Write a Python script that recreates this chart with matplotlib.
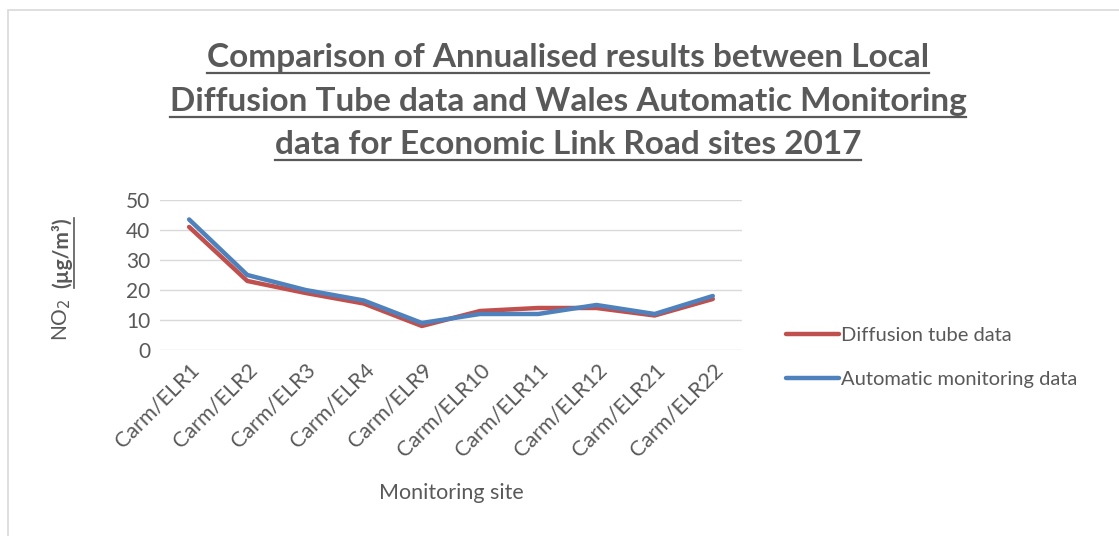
import matplotlib.pyplot as plt
from matplotlib.lines import Line2D
from matplotlib.patches import Rectangle

sites = ["Carm/ELR1", "Carm/ELR2", "Carm/ELR3", "Carm/ELR4", "Carm/ELR9",
         "Carm/ELR10", "Carm/ELR11", "Carm/ELR12", "Carm/ELR21", "Carm/ELR22"]
diffusion = [41, 23, 19, 15.5, 8, 13, 14, 14, 11.5, 17]
automatic = [43.5, 25, 20, 16.5, 9, 12, 12, 15, 12, 18]

grey = "#595959"
plt.rcParams['font.family'] = ['Lato', 'DejaVu Sans']

fig = plt.figure(figsize=(11.19, 5.36), dpi=100)
fig.patches.append(Rectangle((8 / 1119, -0.1), 1.2, 1 - 10 / 536 + 0.1,
                             transform=fig.transFigure, fill=False,
                             edgecolor="#D9D9D9", linewidth=1.2))

ax = fig.add_axes([0.143, 0.347, 0.52, 0.28])
x = range(len(sites))
ax.plot(x, diffusion, color="#C0504D", linewidth=3.2, label="Diffusion tube data",
        solid_capstyle="round")
ax.plot(x, automatic, color="#4F81BD", linewidth=3.2, label="Automatic monitoring data",
        solid_capstyle="round")

ax.set_xlim(-0.5, len(sites) - 0.5)
ax.set_ylim(0, 50)
ax.set_yticks(range(0, 51, 10))
ax.set_xticks(list(x))
ax.set_xticklabels(sites, rotation=45, ha="right", rotation_mode="anchor")
ax.tick_params(axis="x", length=0, labelsize=15.5, colors=grey, pad=7)
ax.tick_params(axis="y", length=0, labelsize=15, colors=grey, pad=7)
ax.grid(axis="y", color="#D9D9D9", linewidth=1)
ax.set_axisbelow(True)
for s in ax.spines.values():
    s.set_visible(False)
ax.set_xlabel("Monitoring site", fontsize=15.5, color=grey, labelpad=16)

leg = ax.legend(loc="center left", bbox_to_anchor=(1.045, -0.05), frameon=False,
                fontsize=14.5, labelcolor=grey, handlelength=2.6, handletextpad=0.1,
                labelspacing=1.3)

# y label: "NO2" plain + "(µg/m³)" bold underlined
fig.text(62 / 1119, 1 - 320 / 536, "NO$_2$", rotation=90, fontsize=15, color=grey,
         ha="center", va="center")
ylab = fig.text(62 / 1119, 1 - 253 / 536, "(µg/m³)", rotation=90, fontsize=15,
                color=grey, ha="center", va="center", fontweight="bold")

title_lines = ["Comparison of Annualised results between Local",
               "Diffusion Tube data and Wales Automatic Monitoring",
               "data for Economic Link Road sites 2017"]
title_texts = []
for i, line in enumerate(title_lines):
    t = fig.text(568 / 1119, 1 - (57 + 44 * i) / 536, line, fontsize=24,
                 fontweight="bold", color=grey, ha="center", va="center")
    title_texts.append(t)

fig.canvas.draw()
r = fig.canvas.get_renderer()
W, H = fig.bbox.width, fig.bbox.height
for t in title_texts:
    bb = t.get_window_extent(r)
    yb = (bb.y0 - 1) / H
    fig.add_artist(Line2D([bb.x0 / W, bb.x1 / W], [yb, yb], color=grey, linewidth=1.6))
bb = ylab.get_window_extent(r)
xl = (bb.x1 + 1) / W
fig.add_artist(Line2D([xl, xl], [bb.y0 / H, bb.y1 / H], color=grey, linewidth=1.2))

fig.savefig("out.png", dpi=100)
